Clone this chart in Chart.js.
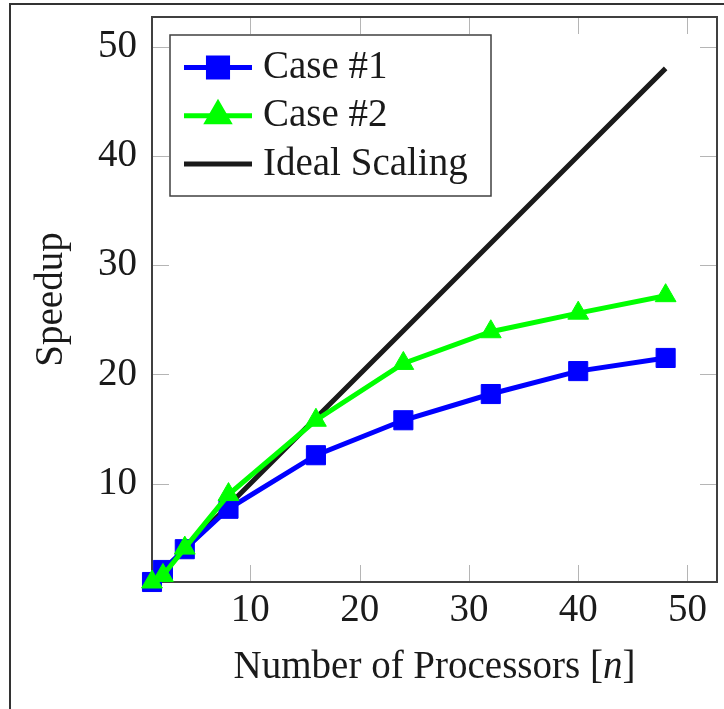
<!DOCTYPE html>
<html>
<head>
<meta charset="utf-8">
<script src="https://cdn.jsdelivr.net/npm/chart.js@4/dist/chart.umd.min.js"></script>
<style>
  html, body { margin: 0; padding: 0; background: #fff; }
  #wrap { position: relative; width: 724px; height: 709px; overflow: hidden; }
  #frame { position: absolute; left: 9px; top: 3px; right: -10px; bottom: -10px;
           border-left: 2px solid #333; border-top: 2px solid #333; }
  canvas { position: absolute; left: 0; top: 0; }
</style>
</head>
<body>
<div id="wrap"><div id="frame"></div><canvas id="c" width="724" height="709"></canvas></div>
<script>
// Processor counts and measured speedups
const processors = [1, 2, 4, 8, 16, 24, 32, 40, 48];
const case1 = [1, 2.1, 4, 7.7, 12.6, 15.8, 18.2, 20.3, 21.5];
const case2 = [1, 1.6, 4.1, 9, 15.8, 21, 23.9, 25.6, 27.2];
const ideal = [1, 2, 4, 8, 16, 24, 32, 40, 48];
const xTicks = [10, 20, 30, 40, 50];
const yTicks = [10, 20, 30, 40, 50];
const seriesNames = ['Case #1', 'Case #2', 'Ideal Scaling'];

const FONT = '"Liberation Serif", "Times New Roman", serif';
const FONT_SIZE = 39;
const TEXT = '#1a1a1a';
const TICK_LEN = 17;

const pts = (ys) => processors.map((p, i) => ({ x: p, y: ys[i] }));
const noPadding = () => ({ left: 0, top: 0, right: 0, bottom: 0 });

// Short inward tick marks on all four sides, the axis box, an in-plot legend and the axis titles
const decor = {
  id: 'decor',
  beforeDatasetsDraw(chart) {
    const { ctx, chartArea: a, scales: { x, y } } = chart;
    ctx.save();
    ctx.strokeStyle = '#b5b5b5';
    ctx.lineWidth = 1;
    ctx.beginPath();
    xTicks.forEach(v => {
      const px = Math.round(x.getPixelForValue(v)) + 0.5;
      ctx.moveTo(px, a.bottom); ctx.lineTo(px, a.bottom - TICK_LEN);
      ctx.moveTo(px, a.top); ctx.lineTo(px, a.top + TICK_LEN);
    });
    yTicks.forEach(v => {
      const py = Math.round(y.getPixelForValue(v)) + 0.5;
      ctx.moveTo(a.left, py); ctx.lineTo(a.left + TICK_LEN, py);
      ctx.moveTo(a.right, py); ctx.lineTo(a.right - TICK_LEN, py);
    });
    ctx.stroke();
    ctx.strokeStyle = '#404040';
    ctx.lineWidth = 2;
    ctx.strokeRect(a.left, a.top, a.right - a.left, a.bottom - a.top);
    ctx.restore();
  },
  afterDatasetsDraw(chart) {
    const { ctx, chartArea: a } = chart;
    const bx = a.left + 18, by = a.top + 18, bw = 321, bh = 161;
    ctx.save();
    ctx.fillStyle = '#fff';
    ctx.fillRect(bx, by, bw, bh);
    ctx.strokeStyle = '#404040';
    ctx.lineWidth = 1.5;
    ctx.strokeRect(bx, by, bw, bh);
    ctx.font = `${FONT_SIZE}px ${FONT}`;
    ctx.textBaseline = 'alphabetic';
    ctx.textAlign = 'left';
    seriesNames.forEach((name, i) => {
      const ds = chart.data.datasets.find(d => d.label === name);
      const base = by + 43 + i * 48.3;
      const ly = base - 10.5;
      ctx.strokeStyle = ds.borderColor;
      ctx.lineWidth = ds.borderWidth;
      ctx.beginPath();
      ctx.moveTo(bx + 14, ly);
      ctx.lineTo(bx + 82, ly);
      ctx.stroke();
      if (ds.pointRadius > 0) {
        ctx.fillStyle = ds.pointBackgroundColor;
        ctx.strokeStyle = ds.pointBorderColor;
        Chart.helpers.drawPoint(ctx, {
          pointStyle: ds.pointStyle, radius: ds.pointRadius,
          borderWidth: ds.pointBorderWidth, rotation: 0
        }, bx + 48, ly);
      }
      ctx.fillStyle = TEXT;
      ctx.fillText(name, bx + 93, base);
    });
    ctx.restore();
  },
  afterDraw(chart) {
    const { ctx, chartArea: a } = chart;
    ctx.save();
    ctx.fillStyle = TEXT;
    ctx.textBaseline = 'alphabetic';
    // x-axis title with italic n
    const reg = `${FONT_SIZE}px ${FONT}`;
    const ita = `italic ${FONT_SIZE}px ${FONT}`;
    const parts = [['Number of Processors [', reg], ['n', ita], [']', reg]];
    let total = 0;
    parts.forEach(([t, f]) => { ctx.font = f; total += ctx.measureText(t).width; });
    let cx = (a.left + a.right) / 2 - total / 2;
    ctx.textAlign = 'left';
    parts.forEach(([t, f]) => { ctx.font = f; ctx.fillText(t, cx, 678); cx += ctx.measureText(t).width; });
    // y-axis title
    ctx.font = reg;
    ctx.textAlign = 'center';
    ctx.translate(62, (a.top + a.bottom) / 2);
    ctx.rotate(-Math.PI / 2);
    ctx.fillText('Speedup', 0, 0);
    ctx.restore();
  }
};

const tickFont = { family: FONT, size: FONT_SIZE, lineHeight: 1.2 };

new Chart(document.getElementById('c'), {
  type: 'line',
  data: {
    datasets: [
      {
        label: seriesNames[0], data: pts(case1), order: 1,
        borderColor: '#0000ff', backgroundColor: '#0000ff', borderWidth: 5,
        pointStyle: 'rect', pointRadius: 13.5, pointBorderWidth: 1,
        pointBackgroundColor: '#0000ff', pointBorderColor: '#0000ff', clip: false
      },
      {
        label: seriesNames[1], data: pts(case2), order: 0,
        borderColor: '#00ff00', backgroundColor: '#00ff00', borderWidth: 5,
        pointStyle: 'triangle', pointRadius: 12, pointBorderWidth: 1,
        pointBackgroundColor: '#00ff00', pointBorderColor: '#00ff00', clip: false
      },
      {
        label: seriesNames[2], data: pts(ideal), order: 2,
        borderColor: '#1a1a1a', backgroundColor: '#1a1a1a', borderWidth: 5,
        pointRadius: 0, pointHoverRadius: 0, clip: false
      }
    ]
  },
  options: {
    responsive: false,
    animation: false,
    devicePixelRatio: 1,
    layout: { autoPadding: false, padding: { left: 0, top: 17, right: 7, bottom: 0 } },
    elements: { line: { tension: 0, borderJoinStyle: 'miter', borderCapStyle: 'butt' } },
    plugins: { legend: { display: false }, tooltip: { enabled: false } },
    events: [],
    scales: {
      x: {
        type: 'linear', min: 1, max: 52.7,
        afterBuildTicks: s => { s.ticks = xTicks.map(v => ({ value: v })); },
        afterFit: s => { s.height = 127; },
        grid: { display: false, drawTicks: false },
        border: { display: false },
        ticks: { font: tickFont, color: TEXT, padding: 5, maxRotation: 0 }
      },
      y: {
        type: 'linear', min: 1, max: 52.7,
        afterBuildTicks: s => { s.ticks = yTicks.map(v => ({ value: v })); },
        afterFit: s => { s.width = 152; s.paddingTop = 0; s.paddingBottom = 0; s.getPadding = noPadding; },
        grid: { display: false, drawTicks: false },
        border: { display: false },
        ticks: { font: tickFont, color: TEXT, padding: 15 }
      }
    }
  },
  plugins: [decor]
});
</script>
</body>
</html>
